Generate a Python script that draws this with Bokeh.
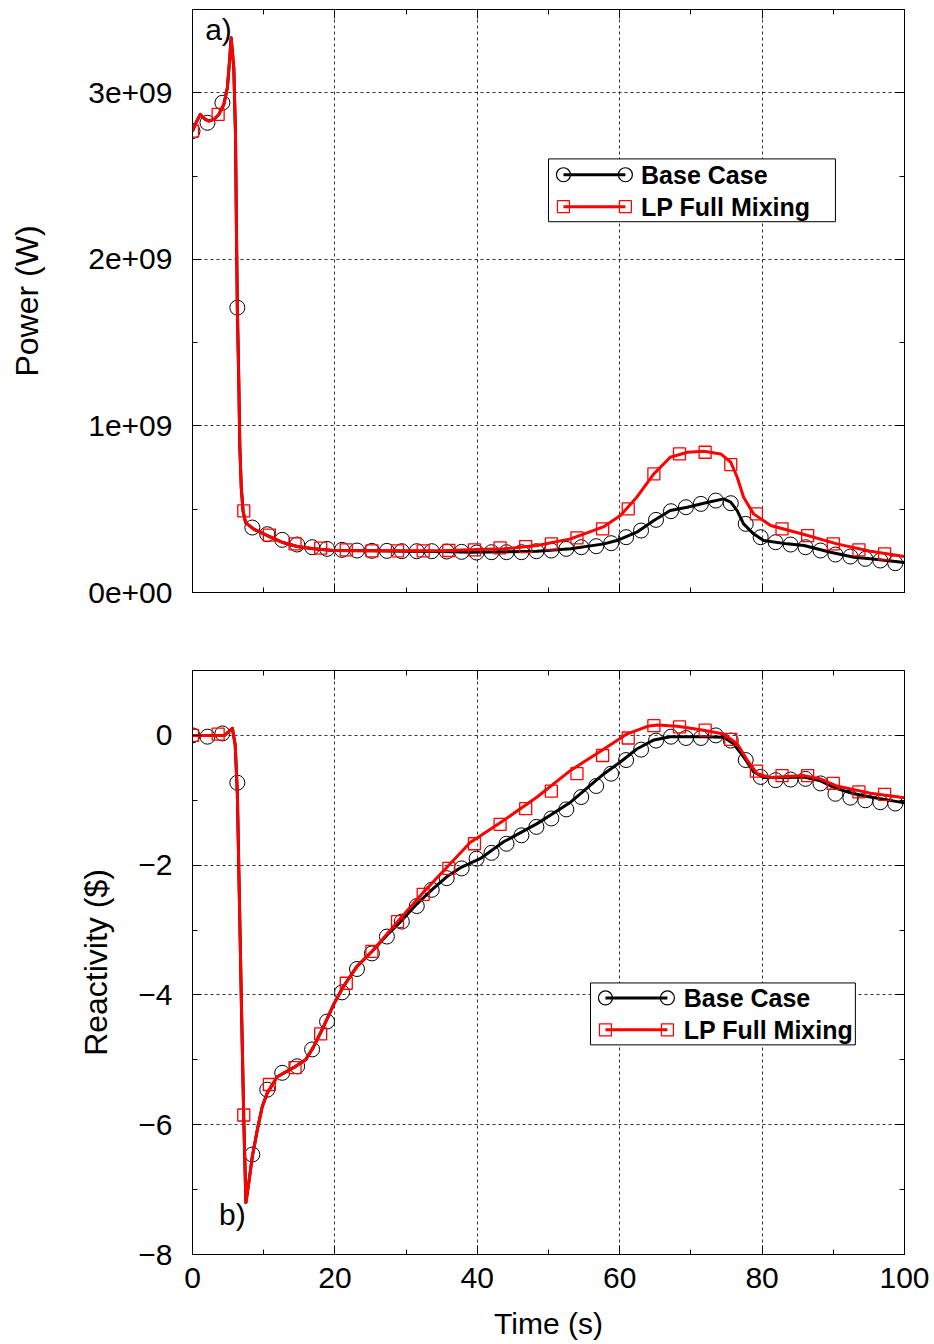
from bokeh.plotting import figure
from bokeh.models import LinearAxis, FixedTicker, Range1d, BoxAnnotation, Label
from bokeh.layouts import column
from bokeh.embed import file_html
from bokeh.resources import INLINE

# ---------------- data ----------------
# Panel a) power (W)
pw_base_line_t = [0, 0.5, 1.1, 1.8, 2.3, 3.0, 3.7, 4.4, 4.9, 5.2, 5.43, 5.8, 6.04, 6.18, 6.3, 6.5, 6.65,
                  6.85, 7.1, 7.45, 8.6, 10.6, 12.7, 14.7, 17, 19.8, 25, 30, 35, 39, 44, 48.4, 53.1, 57.8,
                  59.6, 62.4, 64.8, 67.1, 69.5, 71.8, 74.6, 75.6, 76.5, 77.4, 78.8, 80.2, 83.5, 85.9,
                  89.6, 92.9, 95.2, 100]
pw_base_line = [2.77e9, 2.82e9, 2.87e9, 2.84e9, 2.83e9, 2.84e9, 2.87e9, 2.93e9, 3.03e9, 3.19e9, 3.33e9,
                3.15e9, 2.75e9, 2.15e9, 1.70e9, 1.27e9, 0.87e9, 0.63e9, 0.49e9, 0.42e9, 0.38e9, 0.34e9,
                0.30e9, 0.276e9, 0.262e9, 0.252e9, 0.25e9, 0.248e9, 0.246e9, 0.242e9, 0.244e9, 0.248e9,
                0.262e9, 0.292e9, 0.312e9, 0.362e9, 0.432e9, 0.492e9, 0.512e9, 0.536e9, 0.562e9,
                0.542e9, 0.492e9, 0.412e9, 0.352e9, 0.312e9, 0.292e9, 0.282e9, 0.242e9, 0.212e9,
                0.202e9, 0.18e9]
pw_lp_line_t = [0, 0.5, 1.1, 1.8, 2.3, 3.0, 3.7, 4.4, 4.9, 5.2, 5.43, 5.8, 6.04, 6.18, 6.3, 6.5, 6.65,
                6.85, 7.1, 7.45, 8.6, 10.6, 12.7, 14.7, 17, 19.8, 25, 30, 35, 39, 43.7, 48.4, 53.1, 57.8,
                60.1, 62.4, 64.8, 67.1, 69.5, 71.8, 74.2, 75.6, 76.5, 77.4, 78.8, 81.2, 85.9, 90.5,
                95.2, 100]
pw_lp_line = [2.77e9, 2.82e9, 2.87e9, 2.84e9, 2.83e9, 2.84e9, 2.87e9, 2.93e9, 3.03e9, 3.19e9, 3.33e9,
              3.15e9, 2.75e9, 2.15e9, 1.70e9, 1.27e9, 0.87e9, 0.63e9, 0.49e9, 0.42e9, 0.38e9, 0.34e9,
              0.30e9, 0.276e9, 0.262e9, 0.252e9, 0.25e9, 0.25e9, 0.25e9, 0.256e9, 0.262e9, 0.282e9,
              0.322e9, 0.396e9, 0.462e9, 0.572e9, 0.712e9, 0.812e9, 0.842e9, 0.848e9, 0.832e9,
              0.782e9, 0.692e9, 0.572e9, 0.472e9, 0.402e9, 0.348e9, 0.292e9, 0.248e9, 0.216e9]

base_marker_t = [0, 2.1, 4.2, 6.3, 8.4, 10.5, 12.6, 14.7, 16.8, 18.9, 21.0, 23.1, 25.2, 27.3, 29.4,
                 31.5, 33.6, 35.7, 37.8, 39.9, 42.0, 44.1, 46.2, 48.3, 50.4, 52.5, 54.6, 56.7, 58.8,
                 60.9, 63.0, 65.1, 67.2, 69.3, 71.4, 73.5, 75.6, 77.7, 79.8, 81.9, 84.0, 86.1, 88.2,
                 90.3, 92.4, 94.5, 96.6, 98.7]
pw_base_marker = [2.77e9, 2.82e9, 2.94e9, 1.71e9, 0.39e9, 0.35e9, 0.316e9, 0.288e9, 0.272e9, 0.262e9,
                  0.256e9, 0.252e9, 0.25e9, 0.25e9, 0.248e9, 0.248e9, 0.248e9, 0.246e9, 0.244e9,
                  0.24e9, 0.242e9, 0.242e9, 0.242e9, 0.248e9, 0.252e9, 0.262e9, 0.272e9, 0.278e9,
                  0.296e9, 0.332e9, 0.372e9, 0.436e9, 0.488e9, 0.512e9, 0.532e9, 0.552e9, 0.536e9,
                  0.412e9, 0.332e9, 0.302e9, 0.288e9, 0.272e9, 0.252e9, 0.228e9, 0.216e9, 0.202e9,
                  0.192e9, 0.176e9]
lp_marker_t = [0, 3.6, 7.2, 10.8, 14.4, 18.0, 21.6, 25.2, 28.8, 32.4, 36.0, 39.6, 43.2, 46.8, 50.4,
               54.0, 57.6, 61.2, 64.8, 68.4, 72.0, 75.6, 79.2, 82.8, 86.4, 90.0, 93.6, 97.2]
pw_lp_marker = [2.77e9, 2.87e9, 0.49e9, 0.345e9, 0.292e9, 0.266e9, 0.256e9, 0.25e9, 0.25e9, 0.25e9,
                0.252e9, 0.256e9, 0.268e9, 0.276e9, 0.292e9, 0.328e9, 0.382e9, 0.502e9, 0.712e9,
                0.832e9, 0.842e9, 0.768e9, 0.472e9, 0.382e9, 0.342e9, 0.292e9, 0.256e9, 0.232e9]

# Panel b) reactivity ($)
re_base_line_t = [0, 4.5, 5.6, 6.0, 6.3, 6.6, 6.9, 7.2, 7.5, 7.9, 8.4, 9.1, 9.8, 10.5, 11.9, 14.5, 15.9,
                  17.0, 18.4, 19.9, 21.2, 23.1, 25.2, 27.3, 29.4, 31.5, 33.6, 35.7, 37.8, 40.4, 43.7,
                  48.4, 53.1, 57.8, 60.1, 62.4, 64.8, 67.1, 71.8, 74.6, 76.0, 77.4, 78.8, 80.2, 83.5,
                  85.9, 88.2, 90.5, 92.9, 95.2, 100]
re_base_line = [0, 0.0, 0.11, -0.15, -0.9, -2.6, -4.3, -5.9, -7.2, -6.9, -6.49, -6.08, -5.72, -5.51,
                -5.26, -5.10, -5.0, -4.8, -4.49, -4.13, -3.87, -3.56, -3.33, -3.08, -2.85, -2.6, -2.38,
                -2.18, -2.03, -1.9, -1.64, -1.36, -1.03, -0.59, -0.41, -0.21, -0.07, -0.02, -0.02,
                -0.03, -0.13, -0.33, -0.56, -0.65, -0.65, -0.64, -0.70, -0.82, -0.90, -0.95, -1.04]
re_lp_line_t = [0, 4.5, 5.6, 6.0, 6.3, 6.6, 6.9, 7.2, 7.5, 7.9, 8.4, 9.1, 9.8, 10.5, 11.9, 14.5, 15.9,
                17.0, 18.4, 19.9, 21.2, 23.1, 25.2, 28.8, 32.4, 36.0, 39.0, 43.7, 48.4, 53.1, 57.8,
                61.0, 63.9, 65.3, 68.1, 71.8, 74.6, 76.5, 77.9, 79.3, 81.2, 85.9, 88.2, 90.5, 95.2, 100]
re_lp_line = [0, 0.0, 0.11, -0.15, -0.9, -2.6, -4.3, -5.9, -7.2, -6.9, -6.49, -6.08, -5.72, -5.51,
              -5.26, -5.10, -5.0, -4.8, -4.49, -4.13, -3.87, -3.56, -3.33, -2.87, -2.42, -2.0, -1.65,
              -1.31, -0.95, -0.54, -0.21, 0.02, 0.14, 0.16, 0.14, 0.08, 0.02, -0.13, -0.38, -0.59,
              -0.65, -0.62, -0.67, -0.78, -0.89, -0.96]
re_base_marker = [0, -0.02, 0.03, -0.73, -6.46, -5.46, -5.2, -5.1, -4.84, -4.41, -3.96, -3.6, -3.36,
                  -3.1, -2.87, -2.63, -2.38, -2.2, -2.05, -1.9, -1.81, -1.67, -1.54, -1.41, -1.28,
                  -1.14, -0.95, -0.78, -0.59, -0.38, -0.22, -0.08, -0.02, -0.04, -0.04, 0.0, -0.08,
                  -0.38, -0.64, -0.69, -0.68, -0.67, -0.74, -0.9, -0.96, -1.0, -1.03, -1.05]
re_lp_marker = [0, 0.02, -5.85, -5.38, -5.12, -4.6, -3.82, -3.33, -2.87, -2.45, -2.05, -1.67, -1.37,
                -1.13, -0.86, -0.59, -0.31, -0.04, 0.15, 0.13, 0.08, -0.06, -0.55, -0.62, -0.62, -0.74,
                -0.87, -0.91]

series_names = ["Base Case", "LP Full Mixing"]
x_ticks = [0, 20, 40, 60, 80, 100]
x_tick_labels = ["0", "20", "40", "60", "80", "100"]
x_minor = [10, 30, 50, 70, 90]
pw_ticks = [0, 1e9, 2e9, 3e9]
pw_tick_labels = ["0e+00", "1e+09", "2e+09", "3e+09"]
pw_minor = [0.5e9, 1.5e9, 2.5e9]
re_ticks = [-8, -6, -4, -2, 0]
re_tick_labels = ["\u22128", "\u22126", "\u22124", "\u22122", "0"]
re_minor = [-7, -5, -3, -1]

FONT = "Liberation Sans"
BLACK = "#000000"
RED = "#ff0000"


def style_axis(ax, ticks, minor, labels=None):
    ax.ticker = FixedTicker(ticks=ticks, minor_ticks=minor)
    ax.major_tick_in = 9
    ax.major_tick_out = 0
    ax.minor_tick_in = 5
    ax.minor_tick_out = 0
    ax.major_tick_line_color = BLACK
    ax.minor_tick_line_color = BLACK
    ax.axis_line_color = BLACK
    if labels is None:
        ax.major_label_text_font_size = "0px"
        ax.major_label_text_color = None
        ax.major_label_text_alpha = 0
        ax.major_label_standoff = 0
    else:
        ax.major_label_overrides = {t: s for t, s in zip(ticks, labels)}
        ax.major_label_text_font = FONT
        ax.major_label_text_font_size = "30px"
        ax.major_label_text_color = BLACK


def make_fig(height, y_range, yticks, yminor, ylabels, ylabel, show_x, border_top, border_bottom,
             ylabel_standoff):
    p = figure(width=934, height=height, output_backend="svg", toolbar_location=None,
               x_range=Range1d(0, 100), y_range=y_range,
               min_border_left=192, min_border_right=30,
               min_border_top=border_top, min_border_bottom=border_bottom)
    p.outline_line_color = BLACK
    p.outline_line_width = 1
    p.outline_line_alpha = 1
    style_axis(p.xaxis[0], x_ticks, x_minor, x_tick_labels if show_x else None)
    style_axis(p.yaxis[0], yticks, yminor, ylabels)
    p.yaxis[0].axis_label = ylabel
    p.yaxis[0].axis_label_text_font = FONT
    p.yaxis[0].axis_label_text_font_size = "32px"
    p.yaxis[0].axis_label_text_font_style = "normal"
    p.yaxis[0].axis_label_text_color = BLACK
    p.yaxis[0].axis_label_standoff = ylabel_standoff
    p.yaxis[0].major_label_standoff = 20
    if show_x:
        p.xaxis[0].axis_label = "Time (s)"
        p.xaxis[0].axis_label_text_font = FONT
        p.xaxis[0].axis_label_text_font_size = "30px"
        p.xaxis[0].axis_label_text_font_style = "normal"
        p.xaxis[0].axis_label_text_color = BLACK
        p.xaxis[0].axis_label_standoff = 16
        p.xaxis[0].major_label_standoff = 13
    top = LinearAxis()
    style_axis(top, x_ticks, x_minor, None)
    p.add_layout(top, "above")
    right = LinearAxis()
    style_axis(right, yticks, yminor, None)
    p.add_layout(right, "right")
    p.xgrid.ticker = FixedTicker(ticks=x_ticks)
    p.ygrid.ticker = FixedTicker(ticks=yticks)
    for g in (p.xgrid[0], p.ygrid[0]):
        g.grid_line_color = BLACK
        g.grid_line_alpha = 0.8
        g.grid_line_dash = "3 3"
        g.grid_line_width = 1
    return p


def draw_series(p, base_t, base_y, lp_t, lp_y, base_mt, base_my, lp_mt, lp_my):
    p.line(base_t, base_y, line_color=BLACK, line_width=3, line_join="round")
    p.scatter(base_mt, base_my, marker="circle", size=15, fill_color=None, line_color=BLACK,
              line_width=1)
    p.line(lp_t, lp_y, line_color=RED, line_width=3, line_join="round")
    p.scatter(lp_mt, lp_my, marker="square", size=12, fill_color=None, line_color=RED,
              line_width=1.3)


def draw_legend(p, left, right, top, bottom, row_y, x0, x1, xtext):
    p.add_layout(BoxAnnotation(left=left, right=right, top=top, bottom=bottom, fill_color="white",
                               fill_alpha=1, line_color=BLACK, line_width=1, line_alpha=1))
    colors = [BLACK, RED]
    markers = ["circle", "square"]
    sizes = [14, 12]
    for name, y, c, m, s in zip(series_names, row_y, colors, markers, sizes):
        p.line([x0, x1], [y, y], line_color=c, line_width=3, level="overlay")
        p.scatter([x0, x1], [y, y], marker=m, size=s, fill_color=None, line_color=c,
                  line_width=1.2, level="overlay")
        p.add_layout(Label(x=xtext, y=y, text=name, text_font=FONT, text_font_size="25px",
                           text_font_style="bold", text_baseline="middle", text_align="left",
                           text_color=BLACK, level="overlay"))


# ---------------- panel a) ----------------
p1 = make_fig(631, Range1d(0, 3.5e9), pw_ticks, pw_minor, pw_tick_labels, "Power (W)", False, 9, 39, 40)
draw_series(p1, pw_base_line_t, pw_base_line, pw_lp_line_t, pw_lp_line,
            base_marker_t, pw_base_marker, lp_marker_t, pw_lp_marker)
draw_legend(p1, 50.0, 90.3, 2.603e9, 2.226e9, [2.508e9, 2.316e9], 52.1, 60.8, 63.0)
p1.add_layout(Label(x=3.65, y=3.38e9, text="a)", text_font=FONT, text_font_size="30px",
                    text_align="center", text_baseline="middle", text_color=BLACK))

# ---------------- panel b) ----------------
p2 = make_fig(713, Range1d(-8, 1), re_ticks, re_minor, re_tick_labels, "Reactivity ($)", True, 39, 90, 21)
draw_series(p2, re_base_line_t, re_base_line, re_lp_line_t, re_lp_line,
            base_marker_t, re_base_marker, lp_marker_t, re_lp_marker)
draw_legend(p2, 55.9, 93.1, -3.815, -4.769, [-4.046, -4.538], 58.0, 66.7, 69.0)
p2.add_layout(Label(x=5.6, y=-7.38, text="b)", text_font=FONT, text_font_size="30px",
                    text_align="center", text_baseline="middle", text_color=BLACK))

layout = column(p1, p2, spacing=0)
open("out.html", "w").write(file_html(layout, INLINE))
